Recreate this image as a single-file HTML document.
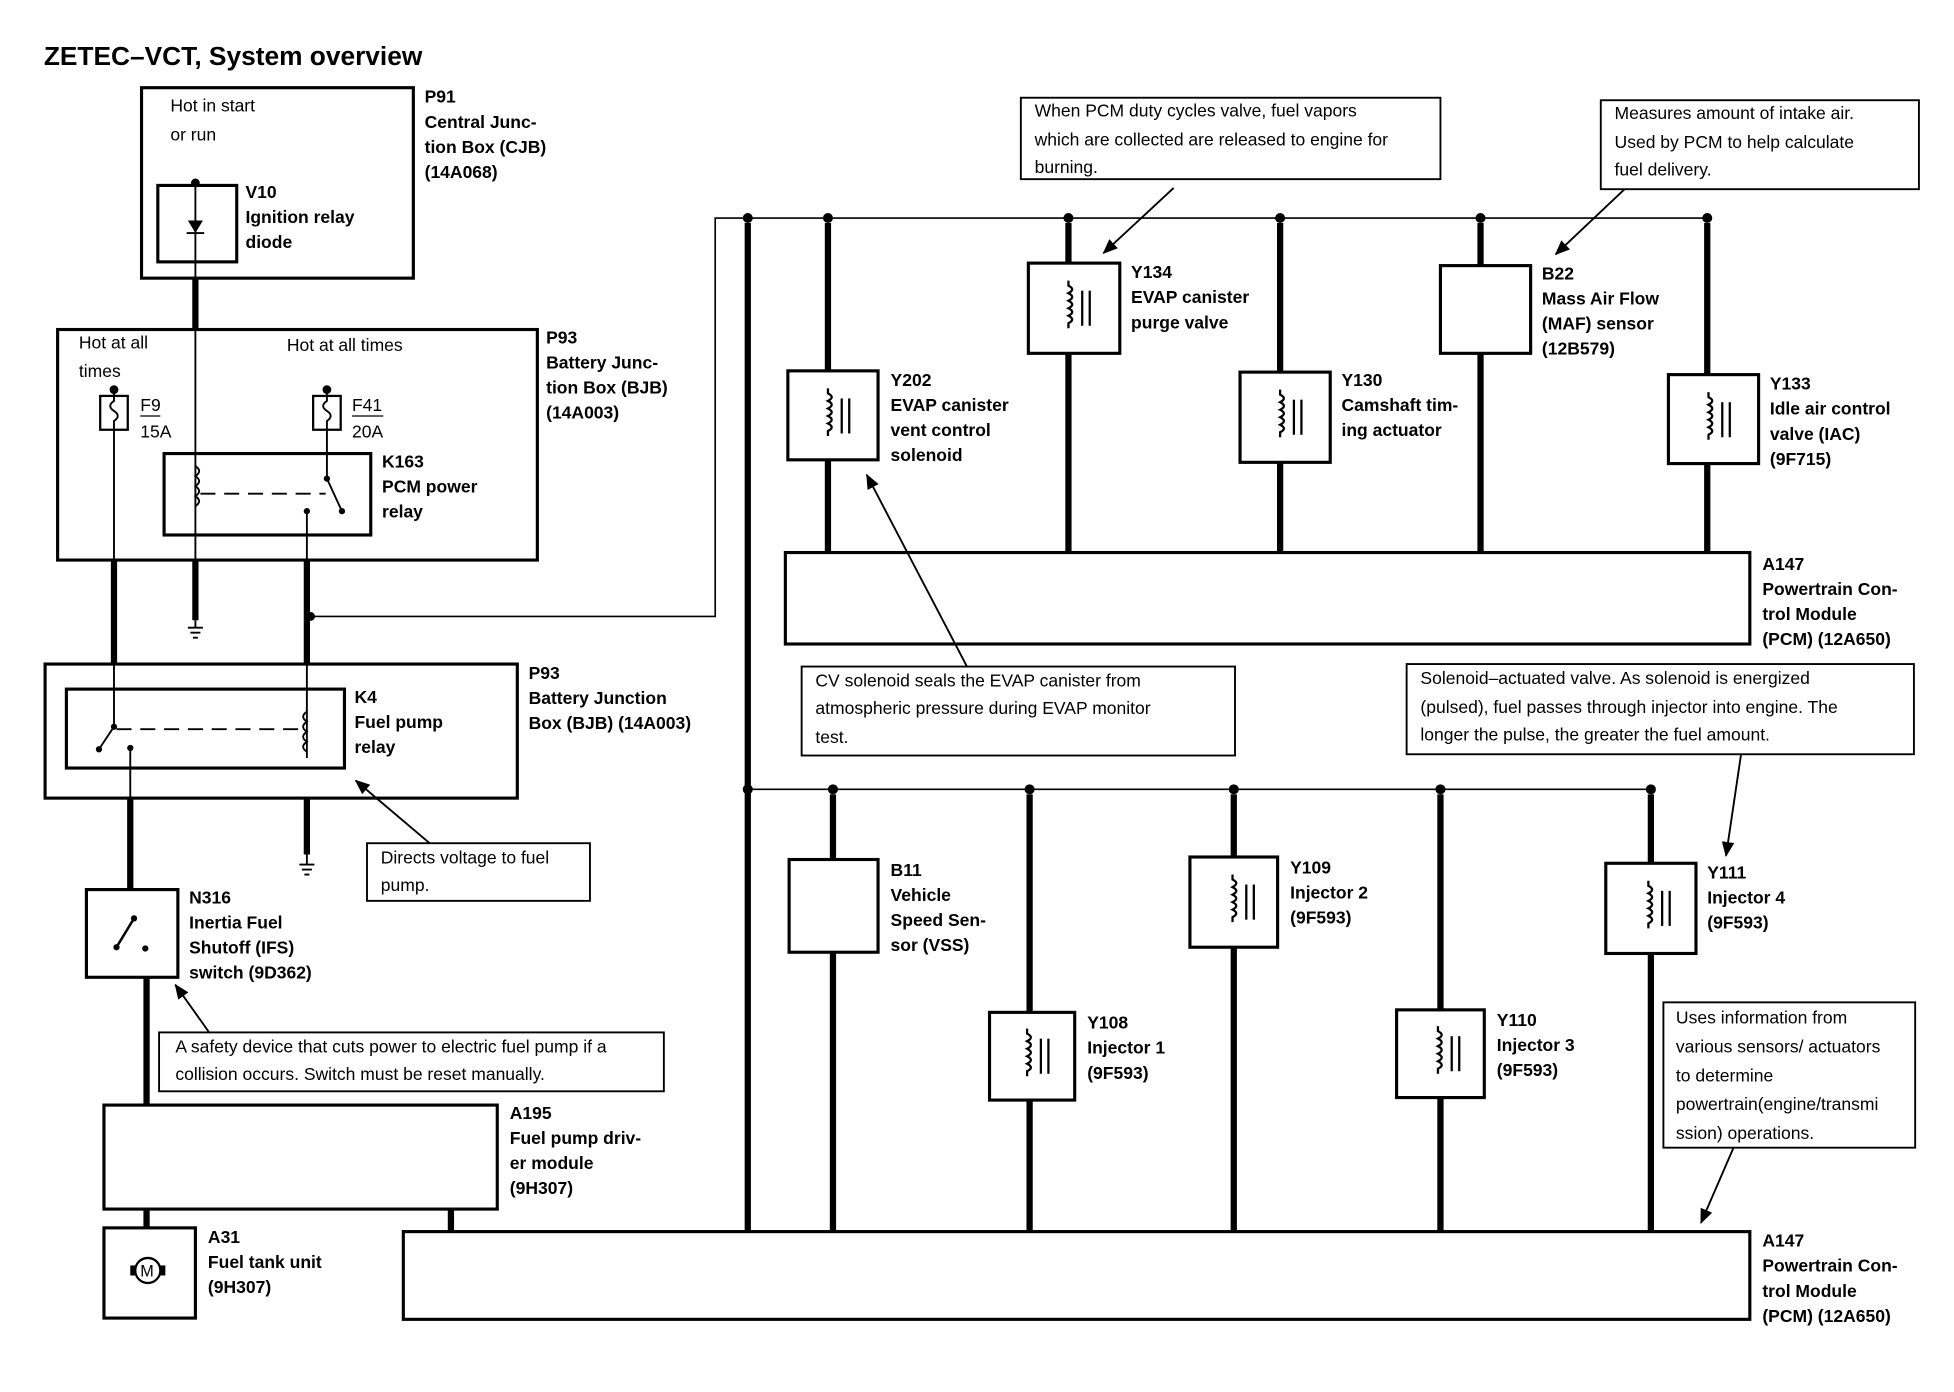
<!DOCTYPE html>
<html><head><meta charset="utf-8"><style>
html,body{margin:0;padding:0;background:#fff;}
svg{display:block;}
text{font-family:"Liberation Sans",Arial,sans-serif;fill:#000;}
.b{font-weight:bold;font-size:14px;}
.r{font-size:14px;}
</style></head><body>
<svg width="1954" height="1392" viewBox="0 0 1560 1111" preserveAspectRatio="none" xmlns="http://www.w3.org/2000/svg">
<defs>
<g id="sol" fill="none" stroke="#000" stroke-width="1.8">
<path d="M-4,-22 v4 q6,3 0,6 q6,3 0,6 q6,3 0,6 q6,3 0,6 q6,3 0,6 v4"/>
<line x1="7" y1="-14" x2="7" y2="14"/><line x1="13" y1="-14" x2="13" y2="14"/>
</g>
<marker id="ah" markerWidth="12" markerHeight="10" refX="11" refY="5" orient="auto" markerUnits="userSpaceOnUse"><path d="M0,0 L12,5 L0,10 Z" fill="#000"/></marker>
</defs>
<rect width="1560" height="1111" fill="#fff"/>
<text x="35" y="52" style="font-weight:bold;font-size:21px">ZETEC–VCT, System overview</text>

<g fill="none" stroke="#000">
<!-- P91 -->
<rect x="113" y="70" width="217" height="152" stroke-width="2.5"/>
<rect x="126" y="148" width="63" height="61" stroke-width="2.5"/>
<line x1="156" y1="143" x2="156" y2="209" stroke-width="1.5"/>
<line x1="156" y1="222" x2="156" y2="263" stroke-width="5"/>
<!-- P93 upper -->
<rect x="46" y="263" width="383" height="184" stroke-width="2.5"/>
<rect x="80" y="316" width="22" height="27" stroke-width="1.8"/>
<rect x="250" y="316" width="22" height="27" stroke-width="1.8"/>
<path d="M91,312 v8 q-6,4 0,8 q6,4 0,8 v7" stroke-width="1.5"/>
<path d="M261,312 v8 q-6,4 0,8 q6,4 0,8 v7" stroke-width="1.5"/>
<line x1="112" y1="332" x2="128" y2="332" stroke-width="1"/>
<line x1="281" y1="332" x2="306" y2="332" stroke-width="1"/>
<rect x="131" y="362" width="165" height="65" stroke-width="2.5"/>
<line x1="156" y1="209" x2="156" y2="447" stroke-width="1.5"/>
<path d="M156,372 q6,4 0,8 q6,4 0,8 q6,4 0,8 q6,4 0,8" stroke-width="1.5"/>
<line x1="160" y1="394" x2="260" y2="394" stroke-width="1.5" stroke-dasharray="12,7"/>
<line x1="261" y1="343" x2="261" y2="382" stroke-width="1.5"/>
<line x1="261" y1="382" x2="273" y2="408" stroke-width="1.5"/>
<line x1="245" y1="408" x2="245" y2="447" stroke-width="1.5"/>
<line x1="91" y1="343" x2="91" y2="580" stroke-width="1.5"/>
<!-- thick below P93 -->
<line x1="91" y1="447" x2="91" y2="530" stroke-width="5"/>
<line x1="156" y1="447" x2="156" y2="495" stroke-width="5"/>
<line x1="245" y1="447" x2="245" y2="530" stroke-width="5"/>
<line x1="245" y1="530" x2="245" y2="605" stroke-width="1.5"/>
<path d="M249,492 H571 V174 H597" stroke-width="1.3"/>
<!-- grounds -->
<path d="M150,501 h12 M152,505 h8 M154,509 h4 M156,495 v6" stroke-width="1.5"/>
<path d="M239,690 h12 M241,694 h8 M243,698 h4 M245,682 v8" stroke-width="1.5"/>
<!-- P93 lower -->
<rect x="36" y="530" width="377" height="107" stroke-width="2.5"/>
<rect x="53" y="550" width="222" height="63" stroke-width="2.5"/>
<line x1="91" y1="580" x2="79" y2="598" stroke-width="1.5"/>
<line x1="93" y1="582" x2="243" y2="582" stroke-width="1.5" stroke-dasharray="12,7"/>
<path d="M245,568 q-6,4 0,8 q-6,4 0,8 q-6,4 0,8 q-6,4 0,8" stroke-width="1.5"/>
<line x1="104" y1="597" x2="104" y2="637" stroke-width="1.5"/>
<line x1="104" y1="637" x2="104" y2="710" stroke-width="5"/>
<line x1="245" y1="637" x2="245" y2="682" stroke-width="5"/>
<rect x="293" y="673" width="178" height="46" stroke-width="1.5"/>
<line x1="343" y1="673" x2="284" y2="623" stroke-width="1.5" marker-end="url(#ah)"/>
<!-- N316 -->
<rect x="69" y="710" width="73" height="70" stroke-width="2.5"/>
<line x1="93" y1="756" x2="107" y2="733" stroke-width="2"/>
<line x1="117" y1="780" x2="117" y2="882" stroke-width="5"/>
<rect x="127" y="824" width="403" height="47" stroke-width="1.5"/>
<line x1="167" y1="824" x2="140" y2="786" stroke-width="1.5" marker-end="url(#ah)"/>
<!-- A195 -->
<rect x="83" y="882" width="314" height="83" stroke-width="2.5"/>
<line x1="117" y1="965" x2="117" y2="980" stroke-width="5"/>
<line x1="360" y1="965" x2="360" y2="983" stroke-width="5"/>
<rect x="83" y="980" width="73" height="72" stroke-width="2.5"/>
<circle cx="118" cy="1014" r="10" stroke-width="1.8"/>
<!-- bottom PCM -->
<rect x="322" y="983" width="1075" height="70" stroke-width="2.5"/>

<!-- upper bus -->
<line x1="597" y1="174" x2="1363" y2="174" stroke-width="1.3"/>
<line x1="597" y1="178" x2="597" y2="983" stroke-width="5"/>
<path d="M661,178 V296 M661,367 V441 M853,178 V210 M853,282 V441 M1022,178 V297 M1022,369 V441 M1182,178 V212 M1182,282 V441 M1363,178 V299 M1363,370 V441" stroke-width="5"/>
<rect x="629" y="296" width="72" height="71" stroke-width="2.5"/>
<rect x="821" y="210" width="73" height="72" stroke-width="2.5"/>
<rect x="990" y="297" width="72" height="72" stroke-width="2.5"/>
<rect x="1150" y="212" width="72" height="70" stroke-width="2.5"/>
<rect x="1332" y="299" width="72" height="71" stroke-width="2.5"/>
<rect x="627" y="441" width="770" height="73" stroke-width="2.5"/>
<rect x="815" y="78" width="335" height="65" stroke-width="1.5"/>
<line x1="937" y1="150" x2="881" y2="202" stroke-width="1.5" marker-end="url(#ah)"/>
<rect x="1278" y="80" width="254" height="71" stroke-width="1.5"/>
<line x1="1297" y1="151" x2="1242" y2="203" stroke-width="1.5" marker-end="url(#ah)"/>
<rect x="640" y="532" width="346" height="71" stroke-width="1.5"/>
<line x1="772" y1="532" x2="692" y2="379" stroke-width="1.5" marker-end="url(#ah)"/>
<rect x="1123" y="530" width="405" height="72" stroke-width="1.5"/>
<line x1="1390" y1="602" x2="1378" y2="683" stroke-width="1.5" marker-end="url(#ah)"/>

<!-- lower bus -->
<line x1="597" y1="630" x2="1318" y2="630" stroke-width="1.3"/>
<path d="M665,634 V686 M665,760 V983 M822,634 V808 M822,878 V983 M985,634 V684 M985,756 V983 M1150,634 V806 M1150,876 V983 M1318,634 V689 M1318,761 V983" stroke-width="5"/>
<rect x="630" y="686" width="71" height="74" stroke-width="2.5"/>
<rect x="790" y="808" width="68" height="70" stroke-width="2.5"/>
<rect x="950" y="684" width="70" height="72" stroke-width="2.5"/>
<rect x="1115" y="806" width="70" height="70" stroke-width="2.5"/>
<rect x="1282" y="689" width="72" height="72" stroke-width="2.5"/>
<rect x="1328" y="800" width="201" height="116" stroke-width="1.5"/>
<line x1="1384" y1="916" x2="1358" y2="976" stroke-width="1.5" marker-end="url(#ah)"/>
</g>

<!-- diode -->
<path d="M150,176 h12 l-6,10 z" fill="#000"/>
<line x1="149" y1="186" x2="163" y2="186" stroke="#000" stroke-width="1.5"/>
<!-- motor ends -->
<rect x="104" y="1010" width="4" height="8" fill="#000"/><rect x="128" y="1010" width="4" height="8" fill="#000"/>
<text x="112" y="1019" style="font-size:13px">M</text>

<!-- dots -->
<g fill="#000">
<circle cx="156" cy="146" r="3.5"/><circle cx="91" cy="311" r="3.5"/><circle cx="261" cy="311" r="3.5"/>
<circle cx="245" cy="408" r="2.5"/><circle cx="273" cy="408" r="2.5"/><circle cx="261" cy="382" r="2.5"/>
<circle cx="248" cy="492" r="3.5"/>
<circle cx="91" cy="580" r="2.5"/><circle cx="79" cy="598" r="2.5"/><circle cx="104" cy="597" r="2.5"/>
<circle cx="93" cy="756" r="2.5"/><circle cx="107" cy="733" r="2.5"/><circle cx="116" cy="757" r="2.5"/>
<circle cx="597" cy="174" r="4"/><circle cx="661" cy="174" r="4"/><circle cx="853" cy="174" r="4"/><circle cx="1022" cy="174" r="4"/><circle cx="1182" cy="174" r="4"/><circle cx="1363" cy="174" r="4"/>
<circle cx="597" cy="630" r="4"/><circle cx="665" cy="630" r="4"/><circle cx="822" cy="630" r="4"/><circle cx="985" cy="630" r="4"/><circle cx="1150" cy="630" r="4"/><circle cx="1318" cy="630" r="4"/>
</g>

<!-- solenoid glyphs -->
<use href="#sol" x="665" y="332"/><use href="#sol" x="857" y="246"/><use href="#sol" x="1026" y="333"/><use href="#sol" x="1368" y="335"/>
<use href="#sol" x="824" y="843"/><use href="#sol" x="988" y="720"/><use href="#sol" x="1152" y="841"/><use href="#sol" x="1320" y="725"/>

<!-- texts -->
<text class="r" x="136" y="89">Hot in start</text><text class="r" x="136" y="112">or run</text>
<text class="b" x="196" y="158">V10</text><text class="b" x="196" y="178">Ignition relay</text><text class="b" x="196" y="198">diode</text>
<text class="b" x="339" y="82">P91</text><text class="b" x="339" y="102">Central Junc-</text><text class="b" x="339" y="122">tion Box (CJB)</text><text class="b" x="339" y="142">(14A068)</text>
<text class="r" x="63" y="278">Hot at all</text><text class="r" x="63" y="301">times</text><text class="r" x="229" y="280">Hot at all times</text>
<text class="r" x="112" y="328">F9</text><text class="r" x="112" y="349">15A</text>
<text class="r" x="281" y="328">F41</text><text class="r" x="281" y="349">20A</text>
<text class="b" x="305" y="373">K163</text><text class="b" x="305" y="393">PCM power</text><text class="b" x="305" y="413">relay</text>
<text class="b" x="436" y="274">P93</text><text class="b" x="436" y="294">Battery Junc-</text><text class="b" x="436" y="314">tion Box (BJB)</text><text class="b" x="436" y="334">(14A003)</text>
<text class="b" x="283" y="561">K4</text><text class="b" x="283" y="581">Fuel pump</text><text class="b" x="283" y="601">relay</text>
<text class="b" x="422" y="542">P93</text><text class="b" x="422" y="562">Battery Junction</text><text class="b" x="422" y="582">Box (BJB) (14A003)</text>
<text class="r" x="304" y="689">Directs voltage to  fuel</text><text class="r" x="304" y="711">pump.</text>
<text class="b" x="151" y="721">N316</text><text class="b" x="151" y="741">Inertia Fuel</text><text class="b" x="151" y="761">Shutoff (IFS)</text><text class="b" x="151" y="781">switch (9D362)</text>
<text class="r" x="140" y="840">A safety device that cuts power to electric fuel pump if a</text><text class="r" x="140" y="862">collision occurs.  Switch must be reset manually.</text>
<text class="b" x="407" y="893">A195</text><text class="b" x="407" y="913">Fuel pump driv-</text><text class="b" x="407" y="933">er module</text><text class="b" x="407" y="953">(9H307)</text>
<text class="b" x="166" y="992">A31</text><text class="b" x="166" y="1012">Fuel tank unit</text><text class="b" x="166" y="1032">(9H307)</text>
<text class="b" x="1407" y="995">A147</text><text class="b" x="1407" y="1015">Powertrain Con-</text><text class="b" x="1407" y="1035">trol Module</text><text class="b" x="1407" y="1055">(PCM) (12A650)</text>

<text class="r" x="826" y="93">When PCM duty cycles valve, fuel vapors</text><text class="r" x="826" y="116">which are collected are released to engine for</text><text class="r" x="826" y="138">burning.</text>
<text class="r" x="1289" y="95">Measures amount of intake air.</text><text class="r" x="1289" y="118">Used by PCM to help calculate</text><text class="r" x="1289" y="140">fuel delivery.</text>
<text class="b" x="711" y="308">Y202</text><text class="b" x="711" y="328">EVAP canister</text><text class="b" x="711" y="348">vent control</text><text class="b" x="711" y="368">solenoid</text>
<text class="b" x="903" y="222">Y134</text><text class="b" x="903" y="242">EVAP canister</text><text class="b" x="903" y="262">purge valve</text>
<text class="b" x="1071" y="308">Y130</text><text class="b" x="1071" y="328">Camshaft tim-</text><text class="b" x="1071" y="348">ing actuator</text>
<text class="b" x="1231" y="223">B22</text><text class="b" x="1231" y="243">Mass Air Flow</text><text class="b" x="1231" y="263">(MAF) sensor</text><text class="b" x="1231" y="283">(12B579)</text>
<text class="b" x="1413" y="311">Y133</text><text class="b" x="1413" y="331">Idle air control</text><text class="b" x="1413" y="351">valve (IAC)</text><text class="b" x="1413" y="371">(9F715)</text>
<text class="b" x="1407" y="455">A147</text><text class="b" x="1407" y="475">Powertrain Con-</text><text class="b" x="1407" y="495">trol Module</text><text class="b" x="1407" y="515">(PCM) (12A650)</text>
<text class="r" x="651" y="548">CV solenoid seals the EVAP canister from</text><text class="r" x="651" y="570">atmospheric pressure during EVAP monitor</text><text class="r" x="651" y="593">test.</text>
<text class="r" x="1134" y="546">Solenoid–actuated valve.  As solenoid is energized</text><text class="r" x="1134" y="569">(pulsed), fuel passes through injector into engine. The</text><text class="r" x="1134" y="591">longer the pulse, the greater the fuel amount.</text>
<text class="b" x="711" y="699">B11</text><text class="b" x="711" y="719">Vehicle</text><text class="b" x="711" y="739">Speed Sen-</text><text class="b" x="711" y="759">sor (VSS)</text>
<text class="b" x="868" y="821">Y108</text><text class="b" x="868" y="841">Injector 1</text><text class="b" x="868" y="861">(9F593)</text>
<text class="b" x="1030" y="697">Y109</text><text class="b" x="1030" y="717">Injector 2</text><text class="b" x="1030" y="737">(9F593)</text>
<text class="b" x="1195" y="819">Y110</text><text class="b" x="1195" y="839">Injector 3</text><text class="b" x="1195" y="859">(9F593)</text>
<text class="b" x="1363" y="701">Y111</text><text class="b" x="1363" y="721">Injector 4</text><text class="b" x="1363" y="741">(9F593)</text>
<text class="r" x="1338" y="817">Uses information from</text><text class="r" x="1338" y="840">various sensors/ actuators</text><text class="r" x="1338" y="863">to determine</text><text class="r" x="1338" y="886">powertrain(engine/transmi</text><text class="r" x="1338" y="909">ssion) operations.</text>
</svg>
</body></html>
